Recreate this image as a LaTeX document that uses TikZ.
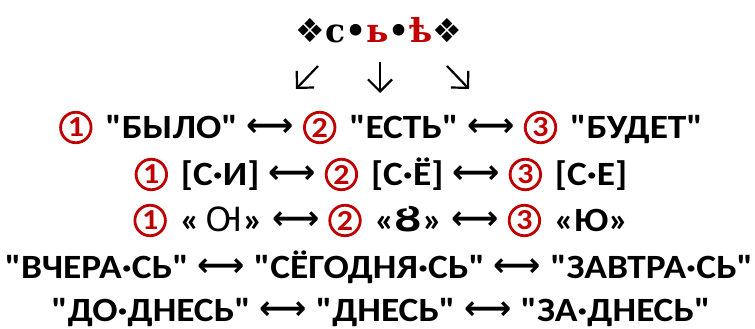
\documentclass[tikz,border=0pt]{standalone}
\usepackage{fontspec}
\usetikzlibrary{arrows.meta}
\setmainfont{Carlito}[FakeStretch=1.1,Ligatures=TeXOff]
\newfontfamily\djv{DejaVu Sans}
\newfontfamily\djs{DejaVu Serif}
\newfontfamily\nts{Noto Sans}[FakeStretch=1.05]
\definecolor{cred}{HTML}{C00000}
\newcommand{\qq}{"}
\newcommand{\cnum}[1]{\tikz[baseline={([yshift=-10.5pt]cn.center)}]\node[circle,draw=cred,line width=2.8pt,inner sep=0pt,minimum size=30.5pt,text=cred,font=\bfseries\fontsize{29}{29}\selectfont](cn){#1};}
\newcommand{\lra}{\hspace{9pt}\raisebox{1.5pt}{\djv\fontsize{33}{33}\selectfont ⟷}\hspace{9pt}}
\newcommand{\cg}{\hspace{13pt}}
\tikzset{row/.style={font=\bfseries\fontsize{34}{36}\selectfont,inner sep=0pt,anchor=base},
  sarrow/.style={line width=2.2pt,-{Straight Barb[length=12pt,width=24pt,line width=2.2pt]}}}
\begin{document}
\begin{tikzpicture}[x=1pt,y=-1pt]
\useasboundingbox (0,0) rectangle (755,329);
\node[row,font=\djs\bfseries\fontsize{33}{33}\selectfont] (top) at (379,43) {{\djv ❖}с•\textcolor{cred}{ь}•\textcolor{cred}{ѣ}{\djv ❖}};
\coordinate (a1s) at (318,66); \coordinate (a1e) at (296,89);
\coordinate (a2s) at (380,62); \coordinate (a2e) at (380,93);
\coordinate (a3s) at (447,66); \coordinate (a3e) at (469,89);
\draw[sarrow] (a1s) -- (a1e);
\draw[sarrow] (a2s) -- (a2e);
\draw[sarrow] (a3s) -- (a3e);
\node[row] (r1) at (381,138) {\cnum{1}\cg\qq БЫЛО\qq\lra\cnum{2}\cg\qq ЕСТЬ\qq\lra\cnum{3}\cg\qq БУДЕТ\qq};
\node[row] (r2) at (381,185) {\cnum{1}\cg[С·И]\lra\cnum{2}\cg[С·Ё]\lra\cnum{3}\cg[С·Е]};
\node[row] (r3) at (381,231) {\cnum{1}\cg«\,{\nts\bfseries Ꙕ}»\lra\cnum{2}\cg«{\djv\bfseries Ȣ}»\lra\cnum{3}\cg«Ю»};
\node[row] (r4) at (379,278) {\qq ВЧЕРА·СЬ\qq\lra\qq СЁГОДНЯ·СЬ\qq\lra\qq ЗАВТРА·СЬ\qq};
\node[row] (r5) at (381,321) {\qq ДО·ДНЕСЬ\qq\lra\qq ДНЕСЬ\qq\lra\qq ЗА·ДНЕСЬ\qq};
\end{tikzpicture}
\end{document}
